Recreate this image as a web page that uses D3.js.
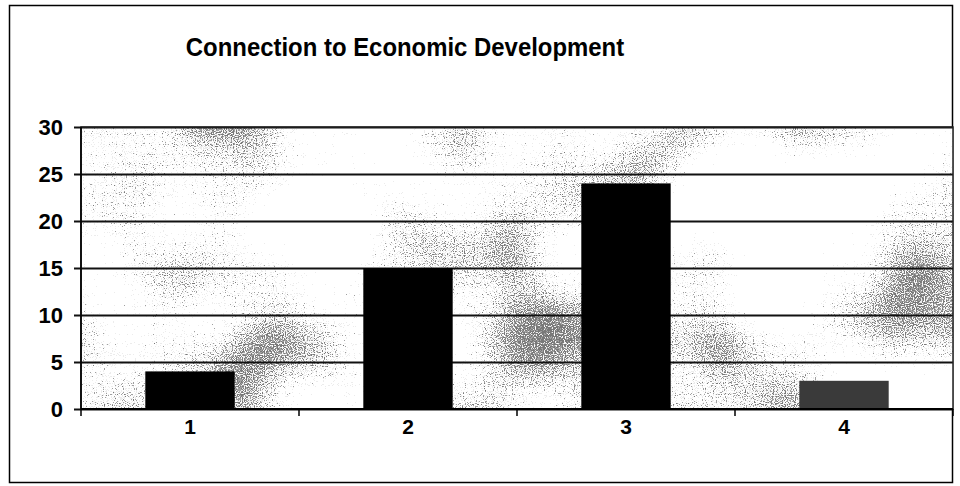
<!DOCTYPE html>
<html>
<head>
<meta charset="utf-8">
<script src="https://cdn.jsdelivr.net/npm/d3@7"></script>
<style>
  html, body { margin: 0; padding: 0; background: #fff; }
  svg { display: block; }
  text { font-family: "Liberation Sans", Arial, sans-serif; font-weight: bold; fill: #000; }
</style>
</head>
<body>
<svg id="chart" width="960" height="486"></svg>
<script>
// Chart content
const title = "Connection to Economic Development";
const categories = ["1", "2", "3", "4"];
const values = [4, 15, 24, 3];
const yTicks = [0, 5, 10, 15, 20, 25, 30];
const yMax = 30;

const svg = d3.select("#chart");
const plot = { left: 81, top: 127, right: 953, bottom: 409 };

// Speckled "granite" fill used behind the plot area
const defs = svg.append("defs");
const f = defs.append("filter")
  .attr("id", "granite")
  .attr("x", 0).attr("y", 0).attr("width", 1).attr("height", 1)
  .attr("filterUnits", "objectBoundingBox")
  .attr("color-interpolation-filters", "sRGB");
const opaque = "1 0 0 0 0  1 0 0 0 0  1 0 0 0 0  0 0 0 0 1";
f.append("feTurbulence").attr("type", "fractalNoise")
  .attr("baseFrequency", "0.007").attr("numOctaves", 2).attr("seed", 8).attr("result", "cloudRaw");
f.append("feColorMatrix").attr("in", "cloudRaw").attr("type", "matrix")
  .attr("values", opaque).attr("result", "cloud");
f.append("feTurbulence").attr("type", "fractalNoise")
  .attr("baseFrequency", "0.9").attr("numOctaves", 1).attr("seed", 11).attr("result", "grainRaw");
f.append("feColorMatrix").attr("in", "grainRaw").attr("type", "matrix")
  .attr("values", opaque).attr("result", "grain");
f.append("feComposite").attr("in", "cloud").attr("in2", "grain")
  .attr("operator", "arithmetic")
  .attr("k1", 0).attr("k2", 1.7).attr("k3", 1.4).attr("k4", -1.1).attr("result", "mix");
f.append("feColorMatrix").attr("in", "mix").attr("type", "matrix")
  .attr("values", "0 0 0 0 0.38  0 0 0 0 0.38  0 0 0 0 0.38  1 0 0 0 0").attr("result", "tinted");
const ct = f.append("feComponentTransfer").attr("in", "tinted");
ct.append("feFuncA").attr("type", "discrete").attr("tableValues", "0 0 0 0 0 0.12 0.6 0.85");

// Outer frame
svg.append("rect")
  .attr("x", 9.5).attr("y", 5.5).attr("width", 943).attr("height", 477)
  .attr("fill", "#fff").attr("stroke", "#000").attr("stroke-width", 1.5);

// Title (slightly condensed bold sans)
svg.append("text")
  .attr("transform", "translate(405,56) scale(0.92,1)")
  .attr("text-anchor", "middle")
  .attr("font-size", 26)
  .text(title);

const x = d3.scaleBand()
  .domain(categories)
  .range([plot.left, plot.right])
  .paddingInner(0.59).paddingOuter(0.295);

const xOuter = d3.scaleBand()
  .domain(categories)
  .range([plot.left, plot.right]);

const y = d3.scaleLinear()
  .domain([0, yMax])
  .range([plot.bottom, plot.top]);

// Plot area background
svg.append("rect")
  .attr("x", plot.left).attr("y", plot.top)
  .attr("width", plot.right - plot.left).attr("height", plot.bottom - plot.top)
  .attr("fill", "#fff");
svg.append("rect")
  .attr("x", plot.left).attr("y", plot.top)
  .attr("width", plot.right - plot.left).attr("height", plot.bottom - plot.top)
  .attr("fill", "#fff")
  .attr("filter", "url(#granite)");

// Horizontal gridlines with left tick marks
const yAxis = d3.axisLeft(y)
  .tickValues(yTicks)
  .tickSize(-(plot.right - plot.left))
  .tickPadding(18)
  .tickFormat(d3.format("d"));
const gy = svg.append("g")
  .attr("transform", `translate(${plot.left},0)`)
  .call(yAxis);
gy.select(".domain").remove();
gy.selectAll(".tick line")
  .attr("x1", -7)
  .attr("stroke", "#111").attr("stroke-width", 1.8);
gy.selectAll(".tick text")
  .attr("font-size", 22)
  .attr("dy", "0.36em")
  .style("font-family", "'Liberation Sans', Arial, sans-serif")
  .style("font-weight", "bold")
  .attr("fill", "#000");

// Plot frame (top, right) and left axis
svg.append("rect")
  .attr("x", plot.left).attr("y", plot.top)
  .attr("width", plot.right - plot.left).attr("height", plot.bottom - plot.top)
  .attr("fill", "none").attr("stroke", "#222").attr("stroke-width", 1.5);
svg.append("line")
  .attr("x1", plot.left).attr("x2", plot.left)
  .attr("y1", plot.top).attr("y2", plot.bottom)
  .attr("stroke", "#000").attr("stroke-width", 1.6);

// Bars
const barFill = (d, i) => i === 3 ? "#3a3a3a" : "#000";
svg.append("g").selectAll("rect")
  .data(values)
  .join("rect")
  .attr("x", (d, i) => x(categories[i]))
  .attr("width", x.bandwidth())
  .attr("y", d => y(d))
  .attr("height", d => y(0) - y(d))
  .attr("fill", barFill);

// Category axis with ticks between categories
const boundaries = categories.map(c => xOuter(c)).concat([plot.right]);
svg.append("line")
  .attr("x1", plot.left).attr("x2", plot.right)
  .attr("y1", plot.bottom).attr("y2", plot.bottom)
  .attr("stroke", "#000").attr("stroke-width", 2);
svg.append("g").selectAll("line")
  .data(boundaries)
  .join("line")
  .attr("x1", d => d).attr("x2", d => d)
  .attr("y1", plot.bottom).attr("y2", plot.bottom + 7)
  .attr("stroke", "#000").attr("stroke-width", 1.5);

svg.append("g").selectAll("text")
  .data(categories)
  .join("text")
  .attr("x", d => xOuter(d) + xOuter.bandwidth() / 2)
  .attr("y", 434)
  .attr("text-anchor", "middle")
  .attr("font-size", 21)
  .text(d => d);
</script>
</body>
</html>
